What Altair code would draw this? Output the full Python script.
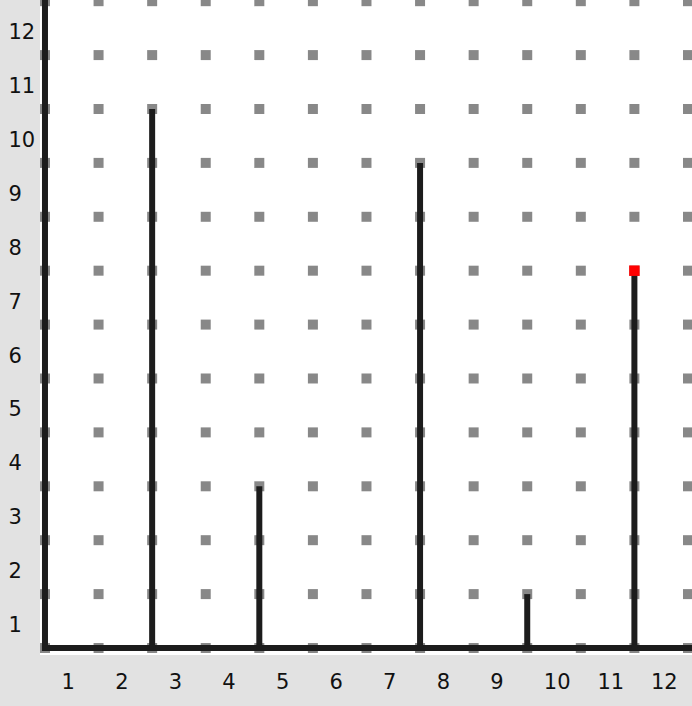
import altair as alt
import pandas as pd

# grid of dot positions (grid units)
grid_cols = list(range(13))
grid_rows = list(range(13))

# stems: position on the grid and height
stem_x = [2, 4, 7, 9, 11]
stem_h = [10, 3, 9, 1, 7]

# highlighted point
highlight_x = [11]
highlight_y = [7]

# tick labels
x_labels = list(range(1, 13))
y_labels = list(range(1, 13))

XMIN, XMAX = -0.093, 12.075
YMIN, YMAX = -0.13, 12.022
X_OFF = 0.3
Y_OFF = 0.583

grid = pd.DataFrame([(c, r) for c in grid_cols for r in grid_rows], columns=["x", "y"])
stems = pd.DataFrame({"x": stem_x, "y0": [0] * len(stem_x), "y": stem_h})
hl = pd.DataFrame({"x": highlight_x, "y": highlight_y})
vline = pd.DataFrame({"x": [0], "y0": [0], "y": [YMAX]})
hline = pd.DataFrame({"x0": [0], "x": [XMAX], "y": [0]})

xscale = alt.Scale(domain=[XMIN, XMAX], nice=False, zero=False)
yscale = alt.Scale(domain=[YMIN, YMAX], nice=False, zero=False)

x_axis = alt.Axis(
    values=[k - 1 + X_OFF for k in x_labels],
    labelExpr="round(datum.value + %s)" % (1 - X_OFF),
    title=None, domain=False, ticks=False, tickSize=0, grid=False,
    labelAlign="left", labelBaseline="top", labelPadding=16,
    labelFont="DejaVu Sans", labelFontSize=21, labelColor="#111111",
    labelOverlap=False, labelFlush=False, labelBound=False,
)
y_axis = alt.Axis(
    values=[k - Y_OFF for k in y_labels],
    labelExpr="round(datum.value + %s)" % Y_OFF,
    title=None, domain=False, ticks=False, tickSize=0, grid=False,
    labelAlign="left", labelBaseline="middle", labelPadding=32,
    labelFont="DejaVu Sans", labelFontSize=21, labelColor="#111111",
    labelOverlap=False, labelFlush=False, labelBound=False,
)


def X(field="x"):
    return alt.X(f"{field}:Q", scale=xscale, axis=x_axis)


def Y(field="y"):
    return alt.Y(f"{field}:Q", scale=yscale, axis=y_axis)


dots = alt.Chart(grid).mark_square(size=100, color="#888888", opacity=1).encode(x=X(), y=Y())

left_line = alt.Chart(vline).mark_rule(color="#1c1c1c", strokeWidth=6, strokeCap="square").encode(
    x=X(), y=Y("y0"), y2="y:Q"
)
bottom_line = alt.Chart(hline).mark_rule(color="#1c1c1c", strokeWidth=6, strokeCap="square").encode(
    x=X("x0"), x2="x:Q", y=Y()
)
stem_rules = alt.Chart(stems).mark_rule(color="#1c1c1c", strokeWidth=6).encode(
    x=X(), y=Y("y0"), y2="y:Q"
)
marker = alt.Chart(hl).mark_square(size=110, color="#ff0000", opacity=1).encode(x=X(), y=Y())

chart = alt.layer(dots, left_line, bottom_line, stem_rules, marker).properties(
    width=652,
    height=655,
    autosize=alt.AutoSizeParams(type="none"),
    padding={"left": 40, "top": 0, "right": 0, "bottom": 51},
    background="#e2e2e2",
).configure_view(fill="#ffffff", strokeWidth=0)

chart.save("out.html", embed_options={"renderer": "svg", "actions": False})
